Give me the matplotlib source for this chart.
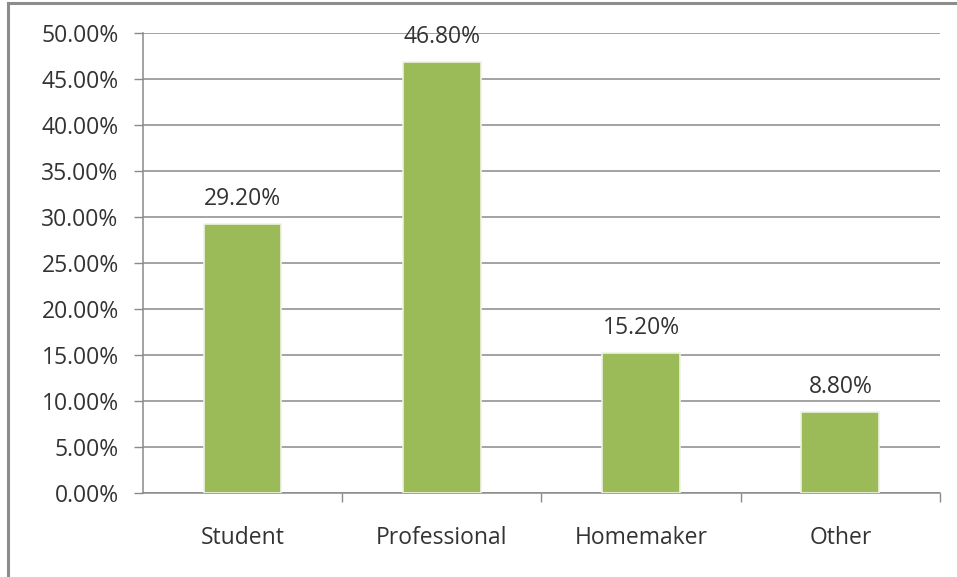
import matplotlib.pyplot as plt
from matplotlib.patches import Rectangle
from matplotlib.ticker import FuncFormatter, FixedLocator

categories = ["Student", "Professional", "Homemaker", "Other"]
shares = [29.20, 46.80, 15.20, 8.80]
y_ticks = [0, 5, 10, 15, 20, 25, 30, 35, 40, 45, 50]

plt.rcParams["font.family"] = ["Open Sans", "DejaVu Sans"]
FS = 16.5

fig = plt.figure(figsize=(9.57, 5.77), dpi=100)
ax = fig.add_axes([0.1494, 0.1456, 0.8328, 0.7972])

# outer chart frame (runs off the right and bottom edges)
fig.patches.append(Rectangle((8 / 957, -0.05), 1.1, 1 - 3 / 577 + 0.05,
                             transform=fig.transFigure, fill=False,
                             edgecolor="#8c8c8c", linewidth=2.2))

x = range(len(categories))
bars = ax.bar(x, shares, width=0.39, color="#9bbb59",
              edgecolor="#eef3e2", linewidth=1.2, zorder=3)

for b, v in zip(bars, shares):
    ax.annotate(f"{v:.2f}%", (b.get_x() + b.get_width() / 2, v),
                xytext=(0, 18), textcoords="offset points",
                ha="center", va="center", fontsize=FS, color="#333333")

ax.set_xlim(-0.5, len(categories) - 0.5)
ax.set_ylim(0, 50)
ax.set_yticks(y_ticks)
ax.yaxis.set_major_formatter(FuncFormatter(lambda v, _: f"{v:.2f}%"))
ax.yaxis.grid(True, color="#8a8a8a", linewidth=1.1, zorder=0)
ax.set_axisbelow(True)

ax.set_xticks(list(x))
ax.set_xticklabels(categories)
ax.xaxis.set_minor_locator(FixedLocator([i + 0.5 for i in x]))
ax.tick_params(axis="x", which="major", length=0, pad=24,
               labelsize=FS, labelcolor="#333333")
ax.tick_params(axis="x", which="minor", length=6.5, width=1, color="#8a8a8a",
               direction="out")
ax.tick_params(axis="y", length=6.5, width=1, color="#8a8a8a", pad=11,
               labelsize=FS, labelcolor="#333333")

for side in ["top", "right"]:
    ax.spines[side].set_visible(False)
for side in ["left", "bottom"]:
    ax.spines[side].set_color("#8a8a8a")
    ax.spines[side].set_linewidth(1.1)

fig.savefig("out.png", dpi=100)
